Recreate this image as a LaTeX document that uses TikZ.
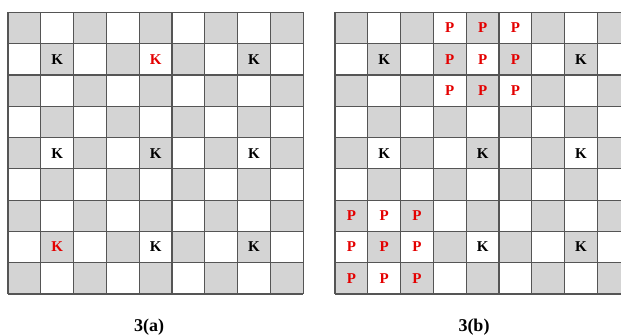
\documentclass[tikz,border=0pt]{standalone}
\usepackage{fontspec}
\setmainfont{Liberation Serif}
\definecolor{cellgray}{RGB}{212,212,212}
\definecolor{gridline}{RGB}{85,85,85}
\definecolor{mred}{RGB}{228,0,0}
\newcommand\putletter[6]{\node[#1] (#2) at ({#3+(#4+0.5)*32.8},{12.3+(#5+0.5)*31.3}) {#6};}
\begin{document}
\begin{tikzpicture}[x=1pt,y=-1pt,
  gridrule/.style={draw=gridline, line width=1.2pt},
  darkcell/.style={fill=cellgray},
  letterbase/.style={inner sep=0pt, font=\fontsize{15}{15}\selectfont\bfseries},
  blackletter/.style={letterbase, text=black},
  redletter/.style={letterbase, text=mred},
  caption/.style={inner sep=0pt, font=\fontsize{18}{18}\selectfont\bfseries, text=black}]
\useasboundingbox (0,0) rectangle (621,335);
\begin{scope}
\clip (0,0) rectangle (621,335);
\foreach \gx in {8,335} {
  \foreach \i in {0,...,8} {
    \foreach \j in {0,...,8} {
      \pgfmathtruncatemacro\cellparity{mod(\i+\j,2)}
      \ifnum\cellparity=0
        \path[darkcell] ({\gx+\i*32.8},{12.3+\j*31.3}) rectangle ++(32.8,31.3);
      \fi
    }
  }
  \foreach \k in {0,...,9} {
    \draw[gridrule] ({\gx+\k*32.8},12.3) -- ({\gx+\k*32.8},{12.3+9*31.3});
    \draw[gridrule] (\gx,{12.3+\k*31.3}) -- ({\gx+9*32.8},{12.3+\k*31.3});
  }
}
\end{scope}
% left board
\putletter{blackletter}{a11}{8}{1}{1}{K}
\putletter{redletter}{a14}{8}{4}{1}{K}
\putletter{blackletter}{a17}{8}{7}{1}{K}
\putletter{blackletter}{a41}{8}{1}{4}{K}
\putletter{blackletter}{a44}{8}{4}{4}{K}
\putletter{blackletter}{a47}{8}{7}{4}{K}
\putletter{redletter}{a71}{8}{1}{7}{K}
\putletter{blackletter}{a74}{8}{4}{7}{K}
\putletter{blackletter}{a77}{8}{7}{7}{K}
% right board
\putletter{blackletter}{b11}{335}{1}{1}{K}
\putletter{blackletter}{b17}{335}{7}{1}{K}
\putletter{blackletter}{b41}{335}{1}{4}{K}
\putletter{blackletter}{b44}{335}{4}{4}{K}
\putletter{blackletter}{b47}{335}{7}{4}{K}
\putletter{blackletter}{b74}{335}{4}{7}{K}
\putletter{blackletter}{b77}{335}{7}{7}{K}
\foreach \r in {0,1,2} {
  \foreach \c in {3,4,5} {
    \putletter{redletter}{pt\r\c}{335}{\c}{\r}{P}
  }
}
\foreach \r in {6,7,8} {
  \foreach \c in {0,1,2} {
    \putletter{redletter}{pb\r\c}{335}{\c}{\r}{P}
  }
}
\node[caption] (capa) at (149,327) {3(a)};
\node[caption] (capb) at (474,327) {3(b)};
\end{tikzpicture}
\end{document}
